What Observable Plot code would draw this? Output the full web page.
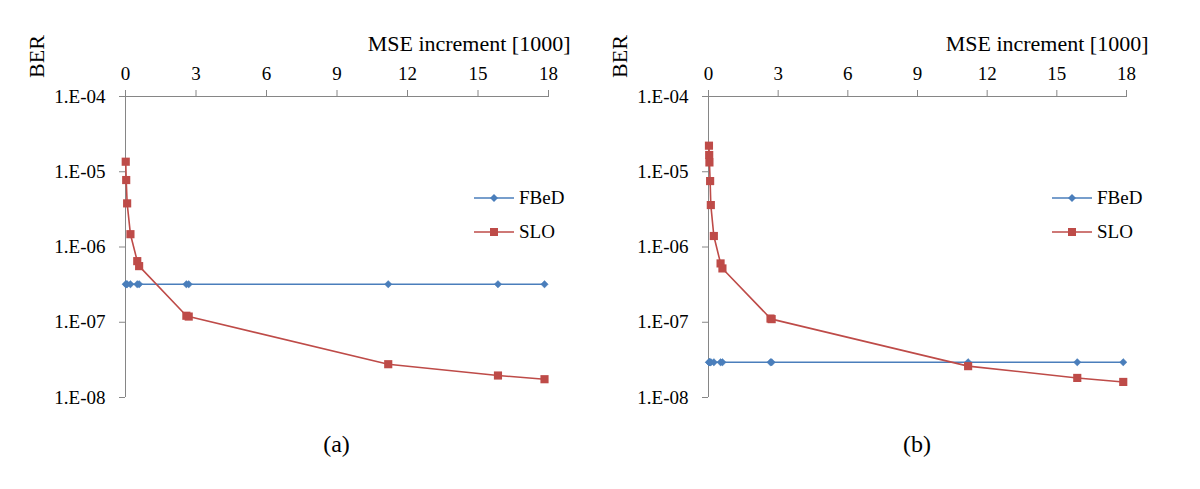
<!DOCTYPE html>
<html><head><meta charset="utf-8">
<script src="https://cdn.jsdelivr.net/npm/d3@7"></script>
<script src="https://cdn.jsdelivr.net/npm/@observablehq/plot@0.6"></script>
<style>
body{margin:0;background:#fff;}
#wrap{position:relative;width:1200px;height:489px;font-family:'Liberation Serif';color:#000;}
#wrap svg, #wrap svg text{font-family:'Liberation Serif' !important;}
.panel{position:absolute;top:0;}
.leg{position:absolute;display:flex;align-items:center;font-family:'Liberation Serif';font-size:19px;height:24px;line-height:24px;white-space:nowrap;}
.leg svg{margin-right:5px;}
.cap{position:absolute;top:429px;width:80px;text-align:center;font-family:'Liberation Serif';font-size:24px;line-height:30px;}
</style></head><body><div id="wrap"></div>
<script>
// ---- data ----
const xTicks = [0, 3, 6, 9, 12, 15, 18];
const yTicks = [1e-4, 1e-5, 1e-6, 1e-7, 1e-8];
const seriesNames = ["FBeD", "SLO"];
const seriesColors = ["#4a7ebb", "#be4b48"];
const panelLabels = ["(a)", "(b)"];
const xTitle = "MSE increment [1000]";
const yTitle = "BER";

// panel (a)
const mseA  = [0.01, 0.03, 0.07, 0.21, 0.5, 0.58, 2.59, 2.69, 11.18, 15.85, 17.83];
const fbedA = [3.2e-7, 3.2e-7, 3.2e-7, 3.2e-7, 3.2e-7, 3.2e-7, 3.2e-7, 3.2e-7, 3.2e-7, 3.2e-7, 3.2e-7];
const sloA  = [1.36e-5, 7.76e-6, 3.8e-6, 1.48e-6, 6.49e-7, 5.57e-7, 1.22e-7, 1.19e-7, 2.77e-8, 1.96e-8, 1.75e-8];

// panel (b)
const mseB  = [0.02, 0.03, 0.04, 0.07, 0.1, 0.23, 0.52, 0.6, 2.67, 2.72, 11.18, 15.88, 17.86];
const fbedB = [2.94e-8, 2.94e-8, 2.94e-8, 2.94e-8, 2.94e-8, 2.94e-8, 2.94e-8, 2.94e-8, 2.94e-8, 2.94e-8, 2.94e-8, 2.94e-8, 2.94e-8];
const sloB  = [2.22e-5, 1.67e-5, 1.33e-5, 7.52e-6, 3.61e-6, 1.4e-6, 6.05e-7, 5.19e-7, 1.12e-7, 1.1e-7, 2.61e-8, 1.82e-8, 1.61e-8];

// ---- drawing ----
const AXIS = "#868686";
const FONT = "Liberation Serif";
const fmt = d => {
  const e = Math.round(Math.log10(d));
  return "1.E" + (e < 0 ? "-" : "+") + String(Math.abs(e)).padStart(2, "0");
};

function panel(xs, fbed, slo, left, marginLeft, marginRight) {
  const rowsF = xs.map((x, i) => ({x, y: fbed[i]}));
  const rowsS = xs.map((x, i) => ({x, y: slo[i]}));
  const p = Plot.plot({
    width: 600, height: 489,
    marginLeft, marginRight, marginTop: 96, marginBottom: 92,
    style: {fontFamily: FONT, fontSize: "19px", background: "transparent", color: "black", overflow: "visible"},
    x: {domain: [0, 18], label: null},
    y: {type: "log", domain: [1e-8, 1e-4], label: null},
    marks: [
      Plot.ruleY([1e-4], {stroke: AXIS}),
      Plot.ruleX([0], {stroke: AXIS}),
      Plot.axisX(xTicks, {anchor: "top", tickSize: 7, tickPadding: 10, stroke: AXIS, fill: "black", label: null, fontFamily: FONT, fontSize: 19}),
      Plot.axisY(yTicks, {anchor: "left", tickSize: 6, tickPadding: 14, tickFormat: fmt, stroke: AXIS, fill: "black", label: null, fontFamily: FONT, fontSize: 19}),
      Plot.line(rowsF, {x: "x", y: "y", stroke: seriesColors[0], strokeWidth: 1.6}),
      Plot.dot(rowsF, {x: "x", y: "y", symbol: "diamond2", r: 3.3, fill: seriesColors[0], stroke: seriesColors[0], strokeWidth: 0.5}),
      Plot.line(rowsS, {x: "x", y: "y", stroke: seriesColors[1], strokeWidth: 1.6}),
      Plot.dot(rowsS, {x: "x", y: "y", symbol: "square", r: 4.6, fill: seriesColors[1], stroke: "none"}),
      Plot.text([yTitle], {frameAnchor: "top-left", textAnchor: "middle", lineAnchor: "middle", dx: -89, dy: -40, rotate: -90, fontSize: 22, fontFamily: FONT, fill: "black"}),
      Plot.text([xTitle], {frameAnchor: "top-right", textAnchor: "end", lineAnchor: "middle", dx: 22, dy: -53, fontSize: 22, fontFamily: FONT, fill: "black"})
    ]
  });
  p.classList.add("panel");
  p.style.left = left + "px";
  p.style.fontFamily = FONT;
  return p;
}

const wrap = document.getElementById("wrap");
const cfg = [
  {xs: mseA, f: fbedA, s: sloA, left: 0, ml: 125, mr: 52},
  {xs: mseB, f: fbedB, s: sloB, left: 600, ml: 108, mr: 74}
];
cfg.forEach((c, k) => {
  wrap.appendChild(panel(c.xs, c.f, c.s, c.left, c.ml, c.mr));
  const frameLeft = c.left + c.ml, frameRight = c.left + 600 - c.mr;
  const legTop = [198, 232];
  seriesNames.forEach((name, i) => {
    const d = document.createElement("div");
    d.className = "leg";
    d.style.left = (frameRight - 74) + "px";
    d.style.top = (legTop[i] - 12) + "px";
    const sym = i === 0
      ? `<path d="M20,8 L24,12 L20,16 L16,12 Z" fill="${seriesColors[i]}"/>`
      : `<rect x="16" y="8" width="8" height="8" fill="${seriesColors[i]}"/>`;
    d.innerHTML = `<svg width="40" height="24"><line x1="0" x2="40" y1="12" y2="12" stroke="${seriesColors[i]}" stroke-width="1.6"/>${sym}</svg><span>${name}</span>`;
    wrap.appendChild(d);
  });
  const cap = document.createElement("div");
  cap.className = "cap";
  cap.textContent = panelLabels[k];
  cap.style.left = ((frameLeft + frameRight) / 2 - 40) + "px";
  wrap.appendChild(cap);
});
</script>
</body></html>
